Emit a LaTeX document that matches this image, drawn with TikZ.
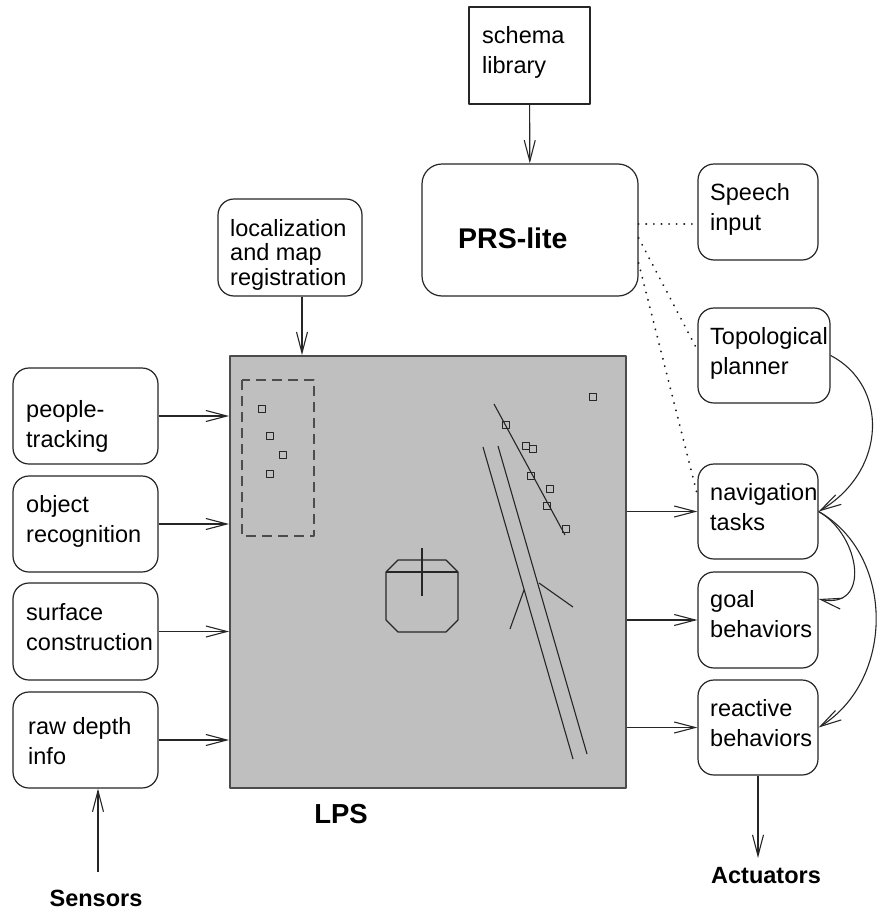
\documentclass[tikz,border=0pt]{standalone}
\usepackage{fontspec}
\setmainfont{Liberation Sans}
\usetikzlibrary{arrows.meta}
\newcommand{\twol}[2]{\vtop{\hbox{\strut #1}\hbox{\strut #2}}}
\newcommand{\threel}[3]{\vtop{\hbox{\strut #1}\hbox{\strut #2}\hbox{\strut #3}}}
\begin{document}
\begin{tikzpicture}[x=1pt,y=-1pt,
  line join=round,
  sbox/.style={draw=black!85, line width=1.2pt, rectangle, inner sep=0pt},
  rbox/.style={sbox, rounded corners=16pt},
  txt/.style={anchor=base west, inner sep=0pt, font=\fontsize{23.5}{30.5}\selectfont},
  bold/.style={anchor=base, inner sep=0pt, font=\fontsize{23.5}{28}\selectfont\bfseries},
  arr/.style={draw=black!85, line width=1.1pt, -{Straight Barb[length=21pt,width=11pt,line width=1.1pt]}},
  dotl/.style={draw=black!90, line width=2pt, line cap=round, dash pattern=on 0.1pt off 7.5pt},
  thin/.style={draw=black!85, line width=1.1pt},
  sq/.style={draw=black!85, line width=1pt}
]
\useasboundingbox[fill=white] (0,0) rectangle (878,913);

% LPS
\node[draw=black!70, line width=1.8pt, fill=black!25, rectangle, inner sep=0pt,
      minimum width=396pt, minimum height=432pt] (lps) at (428,572) {};

% boxes
\node[sbox, minimum width=121pt, minimum height=97pt] (schema) at (529.5,55.5) {};
\node[rbox, rounded corners=20pt, minimum width=216pt, minimum height=132pt] (prs) at (530,230) {};
\node[rbox, minimum width=120pt, minimum height=96pt] (speech) at (758,212) {};
\node[rbox, minimum width=144pt, minimum height=97pt] (loc) at (290,247.5) {};
\node[rbox, minimum width=145pt, minimum height=96pt] (people) at (85.5,416) {};
\node[rbox, minimum width=145pt, minimum height=96pt] (object) at (85.5,524) {};
\node[rbox, minimum width=145pt, minimum height=97pt] (surface) at (85.5,631.5) {};
\node[rbox, minimum width=145pt, minimum height=96pt] (raw) at (85.5,740) {};
\node[rbox, minimum width=132pt, minimum height=95pt] (topo) at (764,355.5) {};
\node[rbox, minimum width=120pt, minimum height=95pt] (nav) at (758,511.5) {};
\node[rbox, minimum width=120pt, minimum height=96pt] (goal) at (758,620) {};
\node[rbox, minimum width=120pt, minimum height=95pt] (reactive) at (758,727.5) {};

% texts
\node[txt] (tschema) at (482,43) {\twol{schema}{library}};
\node[anchor=base west, inner sep=0pt, font=\fontsize{28.5}{32}\selectfont\bfseries] (tprs) at (458,248) {PRS-lite};
\node[txt] (tspeech) at (710,200) {\twol{Speech}{input}};
\node[anchor=base west, inner sep=0pt, font=\fontsize{23.5}{24.6}\selectfont] (tloc) at (230,236) {\threel{localization}{and map}{registration}};
\node[txt] (tpeople) at (26,417) {\twol{people-}{tracking}};
\node[txt] (tobject) at (26,512) {\twol{object}{recognition}};
\node[txt] (tsurface) at (26,620) {\twol{surface}{construction}};
\node[txt] (traw) at (28,734) {\twol{raw depth}{info}};
\node[txt] (ttopo) at (710,344) {\twol{Topological}{planner}};
\node[txt] (tnav) at (710,500) {\twol{navigation}{tasks}};
\node[txt] (tgoal) at (710,607) {\twol{goal}{behaviors}};
\node[txt] (treactive) at (710,716) {\twol{reactive}{behaviors}};
\node[bold, font=\fontsize{27.5}{30}\selectfont\bfseries] (tlps) at (341,823) {LPS};
\node[bold] (tsensors) at (96,906) {Sensors};
\node[bold] (tact) at (766,883) {Actuators};

% connectors
\draw[arr] (schema) -- (prs);
\draw[arr] ([xshift=12pt]loc.south) -- ([xshift=12pt]loc.south |- lps.north);
\foreach \b in {people,object,surface,raw}
  \draw[arr] (\b.east) -- (\b.east -| lps.west);
\foreach \b in {nav,goal,reactive}
  \draw[arr] (\b.west -| lps.east) -- (\b.west);
\coordinate (acttip) at (758,858);
\draw[arr] (reactive.south) -- (acttip);
\coordinate (sentail) at (98,872);
\draw[arr] (sentail) -- (sentail |- raw.south);

% dotted
\draw[dotl] (prs.east |- 0,224) -- (speech.west |- 0,224);
\draw[dotl] (prs.east |- 0,238) -- (topo.west |- 0,350);
\draw[dotl] (prs.east |- 0,263) -- (nav.west |- 0,495);

% curves
\draw[arr] (topo.east) .. controls (888,385) and (888,470) .. (nav.east);
\draw[arr] (nav.east) .. controls (860,535) and (872,610) .. ([yshift=21pt]goal.east);
\draw[arr] (nav.east) .. controls (895,555) and (895,680) .. (reactive.east);

% LPS interior
\draw[draw=black!70, line width=1.3pt, dash pattern=on 10pt off 6pt] (242,380) rectangle (314,536);
\foreach \x/\y in {262/409, 270/436, 283/455, 270/474,
                   593/397, 506/425, 526/446, 533/449, 531/476, 550/489, 547/506, 566/529}
  \draw[sq] (\x-3.5,\y-3.5) rectangle ++(7,7);
\draw[thin] (494,404) -- (565,535);
\draw[thin] (483,447) -- (573,759);
\draw[thin] (498,446) -- (587,754);
\draw[thin] (524,590) -- (510,629);
\draw[thin] (539,583) -- (573,607);
\draw[thin] (386,572) -- (398,560) -- (446,560) -- (458,572) -- (458,620) -- (446,632) -- (398,632) -- (386,620) -- cycle;
\draw[thin] (386,572) -- (458,572);
\draw[thin] (422,548) -- (422,596);
\end{tikzpicture}
\end{document}
